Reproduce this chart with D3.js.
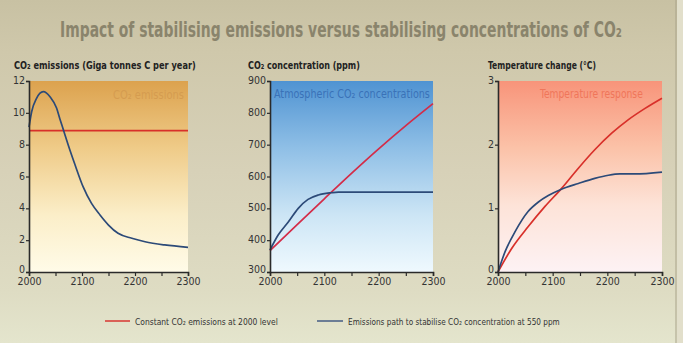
<!DOCTYPE html>
<html><head><meta charset="utf-8">
<script src="https://cdn.jsdelivr.net/npm/d3@7"></script>
<style>
html,body{margin:0;padding:0;background:#d6d0b6;}
svg{display:block;}
text{font-family:"DejaVu Sans Condensed","Liberation Sans Narrow","Arial Narrow",sans-serif;}
</style></head>
<body>
<script>
// ---------- DATA ----------
const xTicks = [2000, 2100, 2200, 2300];
const xMinor = [2000, 2050, 2100, 2150, 2200, 2250, 2300];

// Panel 1: CO2 emissions (GtC/yr)
const emisYears = [2000, 2005, 2014, 2027, 2040, 2052, 2058, 2065, 2074, 2087, 2102, 2118, 2134, 2150, 2168, 2194, 2219, 2256, 2300];
const emisStab  = [9.1, 10.07, 10.9, 11.33, 11.0, 10.3, 9.65, 8.92, 7.98, 6.72, 5.36, 4.31, 3.58, 2.95, 2.43, 2.12, 1.9, 1.7, 1.55];
const emisConstYears = [2000, 2300];
const emisConst = [8.88, 8.88];
const emisTicks = [0, 2, 4, 6, 8, 10, 12];

// Panel 2: CO2 concentration (ppm)
const concYears = [2000, 2050, 2100, 2150, 2200, 2250, 2300];
const concConst = [367, 449, 530, 610, 687, 760, 829];
const concStabYears = [2000, 2015, 2034, 2052, 2070, 2089, 2113, 2126, 2300];
const concStab = [369, 416, 458, 500, 528, 542, 549, 551, 551];
const concTicks = [300, 400, 500, 600, 700, 800, 900];

// Panel 3: Temperature change (°C)
const tempYears = [2000, 2025, 2055, 2086, 2116, 2147, 2177, 2208, 2238, 2269, 2300];
const tempConst = [0, 0.37, 0.71, 1.03, 1.31, 1.63, 1.92, 2.18, 2.39, 2.57, 2.73];
const tempStabYears = [2000, 2013, 2031, 2055, 2074, 2092, 2116, 2147, 2177, 2202, 2223, 2250, 2300];
const tempStab  = [0, 0.32, 0.63, 0.95, 1.1, 1.2, 1.3, 1.39, 1.47, 1.52, 1.54, 1.54, 1.57];
const tempTicks = [0, 1, 2, 3];

const mainTitle = "Impact of stabilising emissions versus stabilising concentrations of CO₂";
const panelTitles = ["CO₂ emissions (Giga tonnes C per year)", "CO₂ concentration (ppm)", "Temperature change (°C)"];
const panelLabels = ["CO₂ emissions", "Atmospheric CO₂ concentrations", "Temperature response"];
const legendLabels = ["Constant CO₂ emissions at 2000 level", "Emissions path to stabilise CO₂ concentration at 550 ppm"];

// ---------- DRAW ----------
const W = 683, H = 343;
const RED = "#d8302a", BLUE = "#2c4a78";
const svg = d3.select("body").append("svg").attr("width", W).attr("height", H);
const defs = svg.append("defs");

function grad(id, stops) {
  const g = defs.append("linearGradient").attr("id", id)
    .attr("x1", 0).attr("y1", 0).attr("x2", 0).attr("y2", 1);
  stops.forEach(s => g.append("stop").attr("offset", s[0]).attr("stop-color", s[1]));
}
grad("bg", [[0, "#c8c1a3"], [0.15, "#cfc8ab"], [0.5, "#d7d1b8"], [0.85, "#dedcc3"], [1, "#e4e5cd"]]);
grad("g1", [[0, "#dca24e"], [0.35, "#efcb88"], [0.7, "#fbeec8"], [1, "#fffbe8"]]);
grad("g2", [[0, "#4f93d2"], [0.35, "#8fbfe6"], [0.7, "#cce5f5"], [1, "#eff9fe"]]);
grad("g3", [[0, "#f8947a"], [0.35, "#fbc2a8"], [0.65, "#fde3d8"], [1, "#fdf2f4"]]);

svg.append("rect").attr("width", W).attr("height", H).attr("fill", "url(#bg)");
svg.append("line").attr("x1", 676).attr("x2", 676).attr("y1", 0).attr("y2", H)
  .attr("stroke", "#a9a38a").attr("stroke-width", 1);
svg.append("rect").attr("x", 677).attr("y", 0).attr("width", 6).attr("height", H).attr("fill", "#e2dfcb");

// text placed at (x, baseline y), horizontally scaled to a target width
function fitText(x, y, str, size, targetW, fill, weight) {
  const g = svg.append("g");
  const t = g.append("text").attr("x", 0).attr("y", 0).attr("font-size", size)
    .attr("fill", fill).attr("font-weight", weight || "normal").text(str);
  const w = t.node().getComputedTextLength();
  const sx = targetW / w;
  g.attr("transform", `translate(${x},${y}) scale(${sx},1)`);
  return t;
}

// Title
fitText(60, 37, mainTitle, 21, 562, "#8a846c", "bold");

const yTop = 81, yBot = 272;
const panels = [
  {x0: 29, x1: 188, grad: "g1", domain: [0, 12], ticks: emisTicks,
   title: panelTitles[0], tx: 14, tw: 182,
   inner: panelLabels[0], ix: 113, iw: 71, iy: 99, icol: "#d59c50",
   series: [
     {years: emisConstYears, vals: emisConst, color: RED},
     {years: emisYears, vals: emisStab, color: BLUE}]},
  {x0: 270, x1: 433, grad: "g2", domain: [300, 900], ticks: concTicks,
   title: panelTitles[1], tx: 248, tw: 112,
   inner: panelLabels[1], ix: 274, iw: 156, iy: 98, icol: "#3a72b8",
   series: [
     {years: concYears, vals: concConst, color: "#d42c48"},
     {years: concStabYears, vals: concStab, color: BLUE}]},
  {x0: 498, x1: 662, grad: "g3", domain: [0, 3], ticks: tempTicks,
   title: panelTitles[2], tx: 488, tw: 108,
   inner: panelLabels[2], ix: 540, iw: 103, iy: 98, icol: "#f0765a",
   series: [
     {years: tempYears, vals: tempConst, color: RED},
     {years: tempStabYears, vals: tempStab, color: BLUE}]}
];

panels.forEach(p => {
  const x = d3.scaleLinear().domain([2000, 2300]).range([p.x0, p.x1]);
  const y = d3.scaleLinear().domain(p.domain).range([yBot, yTop]);
  const g = svg.append("g");
  g.append("rect").attr("x", p.x0).attr("y", yTop).attr("width", p.x1 - p.x0)
    .attr("height", yBot - yTop).attr("fill", "url(#" + p.grad + ")");

  fitText(p.tx, 69, p.title, 11, p.tw, "#222", "bold");
  fitText(p.ix, p.iy, p.inner, 12, p.iw, p.icol);

  const line = d3.line().x(d => x(d[0])).y(d => y(d[1])).curve(d3.curveMonotoneX);
  p.series.forEach(s => {
    g.append("path").datum(s.years.map((yr, i) => [yr, s.vals[i]]))
      .attr("d", line).attr("fill", "none").attr("stroke", s.color)
      .attr("stroke-width", 1.7).attr("stroke-linejoin", "round");
  });

  // axes
  const xa = d3.axisBottom(x).tickValues(xMinor).tickSize(4)
    .tickFormat(d => xTicks.includes(d) ? d : "");
  const gx = g.append("g").attr("transform", `translate(0,${yBot})`).call(xa);
  const ya = d3.axisLeft(y).tickValues(p.ticks).tickSize(3).tickFormat(d3.format("d"));
  const gy = g.append("g").attr("transform", `translate(${p.x0},0)`).call(ya);
  [gx, gy].forEach(ax => {
    ax.select(".domain").attr("stroke", "#2a2a2a").attr("stroke-width", 1.6);
    ax.selectAll(".tick line").attr("stroke", "#2a2a2a").attr("stroke-width", 1.2);
    ax.selectAll(".tick text").attr("fill", "#333").attr("font-size", 10.5)
      .attr("font-family", '"DejaVu Sans Condensed","Liberation Sans Narrow",sans-serif');
  });
  gx.selectAll(".tick text").attr("dy", "0.71em").attr("y", 6);
  gy.selectAll(".tick text").attr("x", -4).attr("dy", "0.25em");
  gy.selectAll(".tick").filter(d => d === p.domain[0]).select("text").attr("dy", "0.05em");
});

// Legend
const legend = [
  {x1: 105, x2: 130, tx: 135, tw: 143, color: "#d9413a", label: legendLabels[0]},
  {x1: 317, x2: 343, tx: 348, tw: 212, color: "#4f6488", label: legendLabels[1]}
];
legend.forEach(l => {
  svg.append("line").attr("x1", l.x1).attr("x2", l.x2).attr("y1", 321).attr("y2", 321)
    .attr("stroke", l.color).attr("stroke-width", 1.6);
  fitText(l.tx, 324.5, l.label, 9.5, l.tw, "#333");
});
</script>
</body></html>
